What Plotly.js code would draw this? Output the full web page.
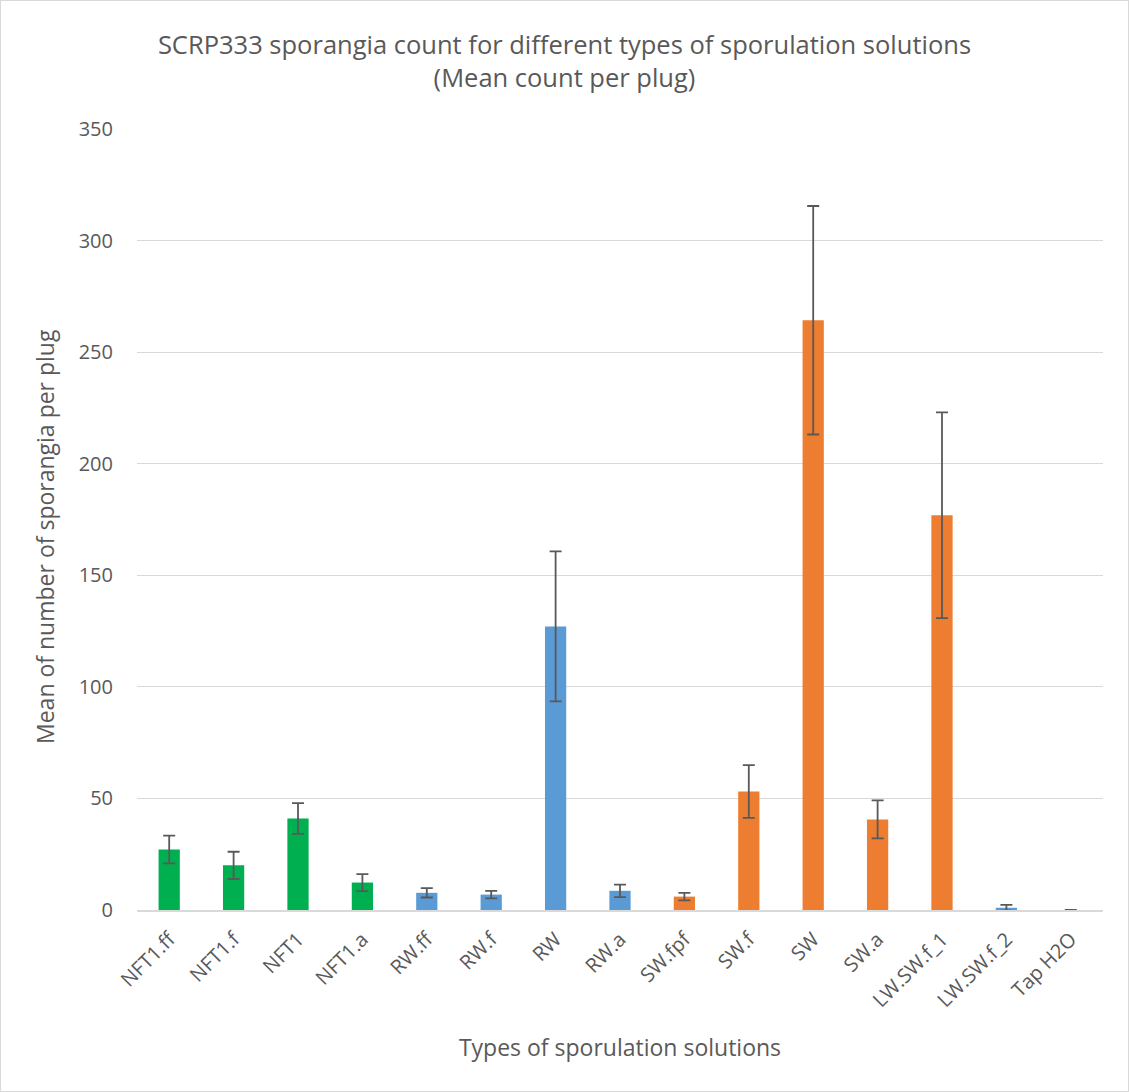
<!DOCTYPE html>
<html>
<head>
<meta charset="utf-8">
<script src="https://cdn.plot.ly/plotly-3.0.1.min.js"></script>
<style>
html,body{margin:0;padding:0;background:#fff;}
#chart{width:1129px;height:1092px;}
#frame{position:absolute;left:0;top:0;width:1127px;height:1090px;border:1px solid #D9D9D9;pointer-events:none;}
</style>
</head>
<body>
<div id="chart"></div>
<div id="frame"></div>
<script>
var categories = ["NFT1.ff","NFT1.f","NFT1","NFT1.a","RW.ff","RW.f","RW","RW.a","SW.fpf","SW.f","SW","SW.a","LW.SW.f_1","LW.SW.f_2","Tap H2O"];
var means = [27.1, 20.0, 41.0, 12.3, 7.7, 6.9, 127.1, 8.6, 6.0, 53.1, 264.3, 40.6, 176.9, 1.0, 0];
var errors = [6.2, 6.1, 6.9, 3.8, 2.1, 1.7, 33.6, 2.8, 1.7, 11.8, 51.2, 8.5, 46.1, 1.3, 0];
var groups = ["green","green","green","green","blue","blue","blue","blue","orange","orange","orange","orange","orange","blue","blue"];
var palette = {green:"#00B050", blue:"#5B9BD5", orange:"#ED7D31"};
var colors = groups.map(function(g){return palette[g];});

var trace = {
  type: "bar",
  x: categories,
  y: means,
  marker: {color: colors},
  error_y: {type: "data", array: errors, visible: true, color: "#595959", thickness: 1.8, width: 6},
  hoverinfo: "x+y"
};

var font = "Open Sans, Lato, sans-serif";
var layout = {
  width: 1129, height: 1092,
  margin: {l: 137, r: 26, t: 129, b: 182},
  paper_bgcolor: "#fff", plot_bgcolor: "#fff",
  bargap: 0.67,
  showlegend: false,
  font: {family: font, color: "#595959"},
  title: {text: "SCRP333 sporangia count for different types of sporulation solutions<br>(Mean count per plug)",
          font: {size: 25.5, color: "#595959", family: font}, x: 0.5, xanchor: "center",
          yref: "container", y: 0.9505, yanchor: "middle"},
  xaxis: {
    tickangle: -45, tickfont: {size: 20, color: "#595959"},
    showgrid: false, showline: true, linecolor: "#D9D9D9", linewidth: 1.5,
    ticks: "outside", ticklen: 8, tickcolor: "rgba(0,0,0,0)",
    title: {text: "Types of sporulation solutions", font: {size: 23, color: "#595959"}, standoff: 28}
  },
  yaxis: {
    range: [0, 350], dtick: 50, tickfont: {size: 20, color: "#595959"},
    showgrid: true, gridcolor: "#D9D9D9", gridwidth: 1.2, zeroline: false,
    showline: false, ticks: "outside", ticklen: 19, tickcolor: "rgba(0,0,0,0)"
  },
  annotations: [{
    text: "Mean of number of sporangia per plug", textangle: -90,
    xref: "paper", yref: "paper", x: (45 - 137) / 966, y: (910 - 537) / 781,
    xanchor: "center", yanchor: "middle", showarrow: false,
    font: {size: 23, color: "#595959", family: font}
  }]
};

Plotly.newPlot("chart", [trace], layout, {displayModeBar: false});
</script>
</body>
</html>
